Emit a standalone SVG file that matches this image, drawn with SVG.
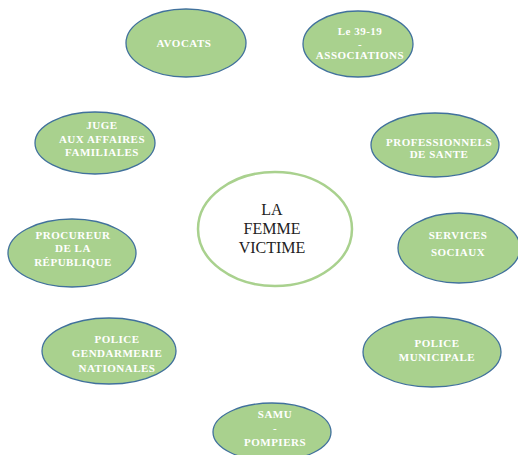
<svg xmlns="http://www.w3.org/2000/svg" width="518" height="455" viewBox="0 0 518 455">
  <style>
    .bubble { fill: #a9d18e; stroke: #41719c; stroke-width: 1.3; }
    .hub { fill: #ffffff; stroke: #a9d18e; stroke-width: 2.5; }
    .lbl { font-family: "Liberation Serif", "Times New Roman", serif; font-weight: bold; font-size: 11px; letter-spacing: 0.5px; fill: #ffffff; text-anchor: middle; }
    .hub-lbl { font-family: "Liberation Serif", "Times New Roman", serif; font-size: 16px; fill: #222222; text-anchor: middle; }
  </style>
  <rect width="518" height="455" fill="#ffffff"/>

  <!-- no connectors are drawn between the bubbles -->
  <g id="connectors"></g>

  <g id="hub">
    <ellipse class="hub" cx="275" cy="229" rx="77" ry="57"/>
    <text class="hub-lbl" x="272" y="215">LA</text>
    <text class="hub-lbl" x="272" y="234">FEMME</text>
    <text class="hub-lbl" x="272" y="253">VICTIME</text>
  </g>

  <g id="avocats">
    <ellipse class="bubble" cx="186" cy="43" rx="60" ry="34"/>
    <text class="lbl" x="184" y="47">AVOCATS</text>
  </g>

  <g id="associations">
    <ellipse class="bubble" cx="358" cy="44" rx="55" ry="33"/>
    <text class="lbl" x="360" y="35">Le 39-19</text>
    <text class="lbl" x="360" y="48">-</text>
    <text class="lbl" x="360" y="59">ASSOCIATIONS</text>
  </g>

  <g id="juge">
    <ellipse class="bubble" cx="95" cy="143" rx="60" ry="31"/>
    <text class="lbl" x="102" y="129">JUGE</text>
    <text class="lbl" x="102" y="143">AUX AFFAIRES</text>
    <text class="lbl" x="102" y="156">FAMILIALES</text>
  </g>

  <g id="sante">
    <ellipse class="bubble" cx="435" cy="145" rx="64" ry="32"/>
    <text class="lbl" x="439" y="146">PROFESSIONNELS</text>
    <text class="lbl" x="439" y="158">DE SANTE</text>
  </g>

  <g id="procureur">
    <ellipse class="bubble" cx="72" cy="253" rx="64" ry="34"/>
    <text class="lbl" x="73" y="239">PROCUREUR</text>
    <text class="lbl" x="73" y="252">DE LA</text>
    <text class="lbl" x="73" y="266">RÉPUBLIQUE</text>
  </g>

  <g id="services-sociaux">
    <ellipse class="bubble" cx="459" cy="248" rx="61" ry="35"/>
    <text class="lbl" x="458" y="239">SERVICES</text>
    <text class="lbl" x="458" y="256">SOCIAUX</text>
  </g>

  <g id="police-nationale">
    <ellipse class="bubble" cx="109" cy="351" rx="67" ry="33"/>
    <text class="lbl" x="117" y="343">POLICE</text>
    <text class="lbl" x="117" y="357">GENDARMERIE</text>
    <text class="lbl" x="117" y="372">NATIONALES</text>
  </g>

  <g id="police-municipale">
    <ellipse class="bubble" cx="432" cy="352" rx="69" ry="35"/>
    <text class="lbl" x="437" y="347">POLICE</text>
    <text class="lbl" x="437" y="361">MUNICIPALE</text>
  </g>

  <g id="samu">
    <ellipse class="bubble" cx="272" cy="432" rx="59" ry="29"/>
    <text class="lbl" x="275" y="418">SAMU</text>
    <text class="lbl" x="275" y="432">-</text>
    <text class="lbl" x="275" y="446">POMPIERS</text>
  </g>
</svg>
